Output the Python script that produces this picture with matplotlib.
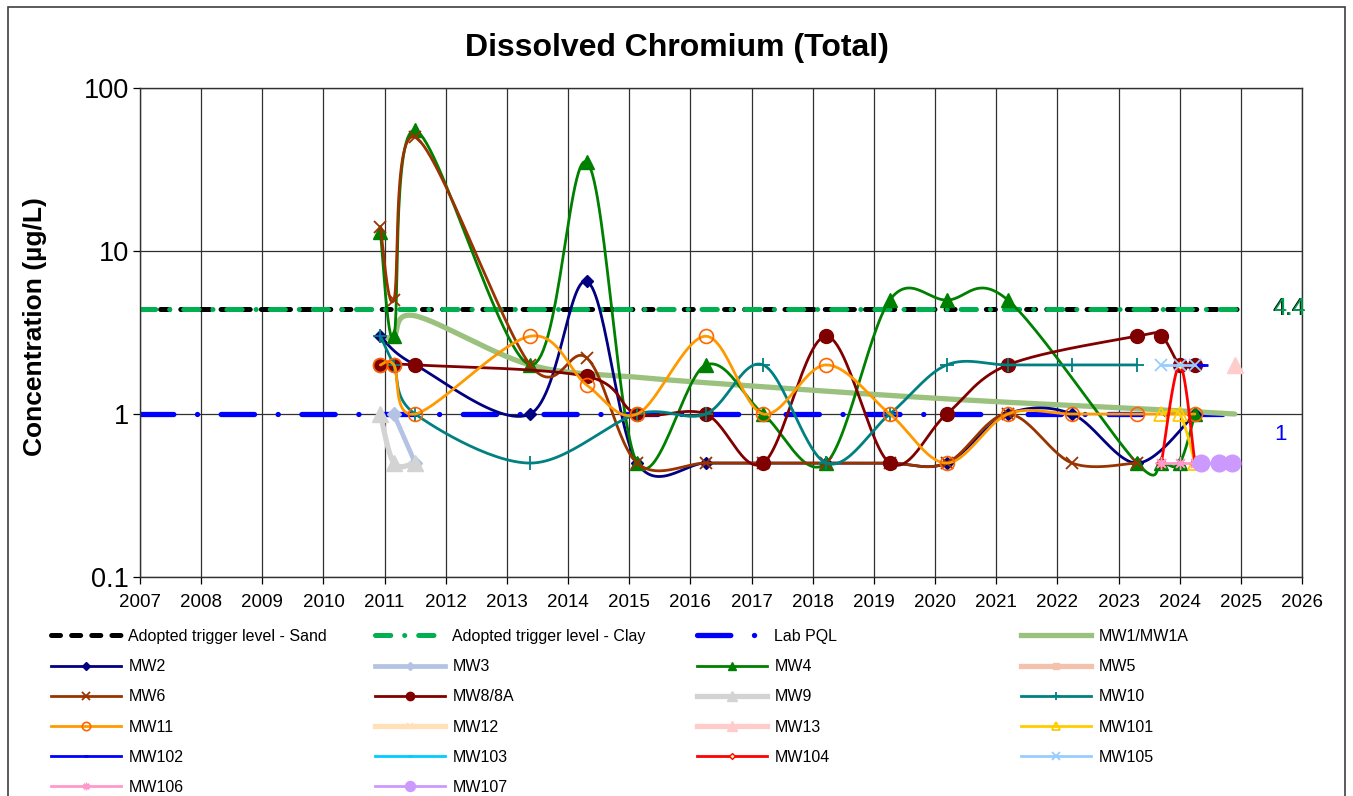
import numpy as np
import matplotlib
matplotlib.use('Agg')
import matplotlib.pyplot as plt
from matplotlib.lines import Line2D
from matplotlib.patches import Rectangle
from matplotlib.ticker import FixedLocator, FixedFormatter, NullLocator

plt.rcParams['font.family'] = ['Liberation Sans', 'DejaVu Sans']
plt.rcParams['lines.scale_dashes'] = False

# ---- data (sample date as decimal year, concentration ug/L) ----
trigger_level = 4.4
lab_pql = 1.0
ref_x = [2007.0, 2025.0]

mw1_x = [2010.93, 2011.15, 2011.5, 2013.38, 2015.13, 2017.19, 2019.26, 2021.19, 2023.3, 2024.9]
mw1_y = [3, 3, 4, 2, 1.68, 1.47, 1.3, 1.18, 1.08, 1.0]

mw2_x = [2010.93, 2011.5, 2013.38, 2014.31, 2015.13, 2016.25, 2017.19, 2018.22, 2019.26,
         2020.19, 2021.19, 2022.24, 2023.3, 2024.25]
mw2_y = [3, 2, 1, 6.5, 0.5, 0.5, 0.5, 0.5, 0.5, 0.5, 1, 1, 0.5, 1]

mw3_x = [2011.15, 2011.5]
mw3_y = [1, 0.5]

mw4_x = [2010.93, 2011.15, 2011.5, 2013.38, 2014.31, 2015.13, 2016.25, 2017.19, 2018.22,
         2019.26, 2020.19, 2021.19, 2023.3, 2023.7, 2024.0, 2024.25]
mw4_y = [13, 3, 55, 2, 35, 0.5, 2, 1, 0.5, 5, 5, 5, 0.5, 0.5, 0.5, 1]

mw5_x = []
mw5_y = []

mw6_x = [2010.93, 2011.15, 2011.5, 2013.38, 2014.31, 2015.13, 2016.25, 2017.19, 2018.22,
         2019.26, 2020.19, 2021.19, 2022.24, 2023.3]
mw6_y = [14, 5, 50, 2, 2.2, 0.5, 0.5, 0.5, 0.5, 0.5, 0.5, 1, 0.5, 0.5]

mw8_x = [2010.93, 2011.15, 2011.5, 2014.31, 2015.13, 2016.25, 2017.19, 2018.22, 2019.26,
         2020.19, 2021.19, 2023.3, 2023.7, 2024.0, 2024.25]
mw8_y = [2, 2, 2, 1.7, 1, 1, 0.5, 3, 0.5, 1, 2, 3, 3, 2, 2]

mw9_x = [2010.93, 2011.15, 2011.5]
mw9_y = [1, 0.5, 0.5]

mw10_x = [2010.93, 2011.15, 2011.5, 2013.38, 2015.13, 2016.25, 2017.19, 2018.22, 2019.26,
          2020.19, 2021.19, 2022.24, 2023.3]
mw10_y = [3, 2, 1, 0.5, 1, 1, 2, 0.5, 1, 2, 2, 2, 2]

mw11_x = [2010.93, 2011.15, 2011.5, 2013.38, 2014.31, 2015.13, 2016.25, 2017.19, 2018.22,
          2019.26, 2020.19, 2021.19, 2022.24, 2023.3, 2024.25]
mw11_y = [2, 2, 1, 3, 1.5, 1, 3, 1, 2, 1, 0.5, 1, 1, 1, 1]

mw12_x = [2024.65, 2024.86]
mw12_y = [0.5, 0.5]

mw13_x = [2024.9]
mw13_y = [2]

mw101_x = [2023.7, 2024.0, 2024.25]
mw101_y = [1, 1, 0.5]

mw102_x = [2024.0, 2024.4]
mw102_y = [2, 2]

mw103_x = []
mw103_y = []

mw104_x = [2023.7, 2024.0, 2024.25]
mw104_y = [0.5, 2, 0.5]

mw105_x = [2023.7, 2024.0, 2024.25]
mw105_y = [2, 2, 2]

mw106_x = [2023.7, 2024.0, 2024.25]
mw106_y = [0.5, 0.5, 0.5]

mw107_x = [2024.35, 2024.65, 2024.86]
mw107_y = [0.5, 0.5, 0.5]


def smooth(x, y, n=30):
    # Excel-like smoothed line: Catmull-Rom Bezier in (year, log10 value) space
    x = np.asarray(x, float)
    ly = np.log10(np.asarray(y, float))
    if len(x) < 2:
        return x, 10 ** ly
    px = np.concatenate([[x[0]], x, [x[-1]]])
    py = np.concatenate([[ly[0]], ly, [ly[-1]]])
    t = np.linspace(0, 1, n)
    xs, ys = [], []
    for i in range(1, len(px) - 2):
        p0 = np.array([px[i - 1], py[i - 1]])
        p1 = np.array([px[i], py[i]])
        p2 = np.array([px[i + 1], py[i + 1]])
        p3 = np.array([px[i + 2], py[i + 2]])
        c1 = p1 + (p2 - p0) / 6
        c2 = p2 - (p3 - p1) / 6
        b = ((1 - t) ** 3)[:, None] * p1 + (3 * (1 - t) ** 2 * t)[:, None] * c1 \
            + (3 * (1 - t) * t ** 2)[:, None] * c2 + (t ** 3)[:, None] * p2
        xs.append(b[:, 0])
        ys.append(b[:, 1])
    return np.concatenate(xs), 10 ** np.concatenate(ys)


fig = plt.figure(figsize=(13.53, 7.96), dpi=100)
ax = fig.add_axes([140 / 1353, 1 - 577 / 796, 1162 / 1353, 489 / 796])

# reference lines
sand = dict(color='black', lw=3.6, dashes=(6.5, 8.0), dash_capstyle='round')
clay = dict(color='#00B050', lw=3.6, dashes=(11, 10, 0.1, 10), dash_capstyle='round')
pql = dict(color='#0000FF', lw=3.8, dashes=(24, 17, 0.1, 17), dash_capstyle='round')
ax.plot(ref_x, [trigger_level] * 2, **sand)
ax.plot(ref_x, [trigger_level] * 2, **clay)
ax.plot(ref_x, [lab_pql] * 2, **pql)

lw = 2.0
styles = [
    ('MW1/MW1A', mw1_x, mw1_y, dict(color='#9BC17E', lw=3.8, marker=None, ms=0)),
    ('MW2', mw2_x, mw2_y, dict(color='#000080', lw=lw, marker='D', ms=6.5, mfc='#000080', mec='#000080')),
    ('MW3', mw3_x, mw3_y, dict(color='#B4C3E3', lw=3.4, marker='D', ms=7, mfc='#B4C3E3', mec='#B4C3E3')),
    ('MW4', mw4_x, mw4_y, dict(color='#008000', lw=lw, marker='^', ms=10.5, mfc='#008000', mec='#008000')),
    ('MW5', mw5_x, mw5_y, dict(color='#F4C2AC', lw=3.8, marker='s', ms=8, mfc='#F4C2AC', mec='#F4C2AC')),
    ('MW6', mw6_x, mw6_y, dict(color='#993300', lw=lw, marker='x', ms=9, mfc='none', mec='#993300', mew=1.3)),
    ('MW8/8A', mw8_x, mw8_y, dict(color='#800000', lw=lw, marker='o', ms=10, mfc='#800000', mec='#800000')),
    ('MW9', mw9_x, mw9_y, dict(color='#D3D3D3', lw=3.8, marker='^', ms=11, mfc='#D3D3D3', mec='#D3D3D3')),
    ('MW10', mw10_x, mw10_y, dict(color='#008080', lw=lw, marker='+', ms=10, mec='#008080', mew=1.3)),
    ('MW11', mw11_x, mw11_y, dict(color='#FF9900', lw=lw, marker='o', ms=10, mfc='none', mec='#FF6600', mew=1.2)),
    ('MW12', mw12_x, mw12_y, dict(color='#FFE0B8', lw=3.8, marker='x', ms=7, mec='#FFE0B8', mew=1.2)),
    ('MW13', mw13_x, mw13_y, dict(color='#FFCCCC', lw=3.8, marker='^', ms=11, mfc='#FFCCCC', mec='#FFCCCC')),
    ('MW101', mw101_x, mw101_y, dict(color='#FFCC00', lw=lw, marker='^', ms=10, mfc='none', mec='#FFCC00', mew=1.3)),
    ('MW102', mw102_x, mw102_y, dict(color='#0000FF', lw=lw, marker='_', ms=6, mec='#0000FF', mew=2)),
    ('MW103', mw103_x, mw103_y, dict(color='#00CCFF', lw=lw, marker='_', ms=6, mec='#00CCFF', mew=2)),
    ('MW104', mw104_x, mw104_y, dict(color='#FF0000', lw=lw, marker='D', ms=5, mfc='#FFFF99', mec='#FF0000', mew=1)),
    ('MW105', mw105_x, mw105_y, dict(color='#99CCFF', lw=lw, marker='x', ms=9, mec='#99CCFF', mew=1.3)),
    ('MW106', mw106_x, mw106_y, dict(color='#FF99CC', lw=lw, marker=(8, 2, 0), ms=9, mec='#FF99CC', mew=1)),
    ('MW107', mw107_x, mw107_y, dict(color='#CC99FF', lw=lw, marker='o', ms=12, mfc='#CC99FF', mec='#CC99FF')),
]

for name, xs, ys, st in styles:
    if len(xs) == 0:
        continue
    sx, sy = smooth(xs, ys)
    ax.plot(sx, sy, color=st['color'], lw=st['lw'], solid_capstyle='round')
    if st['marker'] is not None:
        ax.plot(xs, ys, ls='none', marker=st['marker'], ms=st['ms'],
                mfc=st.get('mfc', 'none'), mec=st.get('mec', st['color']), mew=st.get('mew', 1))

ax.set_yscale('log')
ax.set_ylim(0.1, 100)
ax.set_xlim(2007, 2026)
ax.xaxis.set_major_locator(FixedLocator(range(2007, 2027)))
ax.xaxis.set_minor_locator(NullLocator())
ax.yaxis.set_major_locator(FixedLocator([0.1, 1, 10, 100]))
ax.yaxis.set_major_formatter(FixedFormatter(['0.1', '1', '10', '100']))
ax.yaxis.set_minor_locator(NullLocator())
ax.grid(True, which='major', color='#303030', lw=0.9)
ax.set_axisbelow(True)
ax.tick_params(axis='x', direction='out', length=5, width=0.9, pad=7, labelsize=13.5)
ax.tick_params(axis='y', direction='out', length=5, width=0.9, pad=3, labelsize=19.5)
for sp in ax.spines.values():
    sp.set_color('#303030')
    sp.set_linewidth(1.0)

# data labels for the reference lines
ax.annotate('4.4', xy=(2025.8, trigger_level), xytext=(-1, 0), textcoords='offset points',
            ha='center', va='center', fontsize=17, color='black', annotation_clip=False)
ax.annotate('4.4', xy=(2025.8, trigger_level), ha='center', va='center', fontsize=17,
            color='#00A050', annotation_clip=False)
ax.annotate('1', xy=(2025.65, lab_pql), xytext=(0, -15), textcoords='offset points',
            ha='center', va='center', fontsize=16, color='#0000FF', annotation_clip=False)

fig.text(0.5, 1 - 48 / 796, 'Dissolved Chromium (Total)', ha='center', va='center',
         fontsize=23, fontweight='bold')
fig.text(35 / 1353, 1 - 327 / 796, 'Concentration (µg/L)', ha='center', va='center',
         rotation=90, fontsize=19, fontweight='bold')

# legend, four columns laid out like the spreadsheet
handles = {
    'Adopted trigger level - Sand': Line2D([], [], **sand),
    'Adopted trigger level - Clay': Line2D([], [], **clay),
    'Lab PQL': Line2D([], [], **pql),
}
for name, xs, ys, st in styles:
    handles[name] = Line2D([], [], color=st['color'], lw=st['lw'], marker=st['marker'],
                           ms=st['ms'] * 0.6, mfc=st.get('mfc', 'none'),
                           mec=st.get('mec', st['color']), mew=st.get('mew', 1))

order = ['Adopted trigger level - Sand', 'Adopted trigger level - Clay', 'Lab PQL', 'MW1/MW1A',
         'MW2', 'MW3', 'MW4', 'MW5', 'MW6', 'MW8/8A', 'MW9', 'MW10', 'MW11', 'MW12', 'MW13',
         'MW101', 'MW102', 'MW103', 'MW104', 'MW105', 'MW106', 'MW107']
col_x = [51, 375, 697, 1021]
for c in range(4):
    labels = order[c::4]
    fig.legend([handles[l] for l in labels], labels, loc='upper left',
               bbox_to_anchor=(col_x[c] / 1353, 1 - 629 / 796), frameon=False,
               borderpad=0, borderaxespad=0, handlelength=4.4, handletextpad=0.45,
               labelspacing=0.95, numpoints=1, fontsize=11.5)

fig.patches.append(Rectangle((8 / 1353, -0.05), 1337 / 1353, 1.05 - 7 / 796, transform=fig.transFigure,
                             fill=False, edgecolor='#404040', lw=1.2))

fig.savefig('out.png', dpi=100)
